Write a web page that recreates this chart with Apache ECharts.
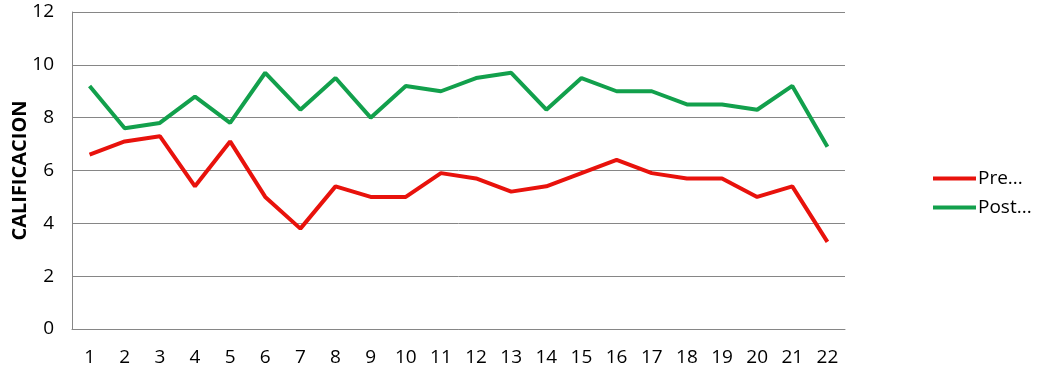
<!DOCTYPE html>
<html><head><meta charset="utf-8">
<script src="https://cdn.jsdelivr.net/npm/echarts@6/dist/echarts.min.js"></script>
<style>html,body{margin:0;padding:0;background:#fff}#c{width:1041px;height:379px}</style>
</head><body><div id="c"></div>
<script>
const categories = ['1','2','3','4','5','6','7','8','9','10','11','12','13','14','15','16','17','18','19','20','21','22'];
const preValues = [6.6,7.1,7.3,5.4,7.1,5.0,3.8,5.4,5.0,5.0,5.9,5.7,5.2,5.4,5.9,6.4,5.9,5.7,5.7,5.0,5.4,3.3];
const postValues = [9.2,7.6,7.8,8.8,7.8,9.7,8.3,9.5,8.0,9.2,9.0,9.5,9.7,8.3,9.5,9.0,9.0,8.5,8.5,8.3,9.2,6.9];
const seriesNames = ['Pre...','Post...'];
const yAxisName = 'CALIFICACION';

const font = 'Open Sans';
const chart = echarts.init(document.getElementById('c'));
chart.setOption({
  animation: false,
  textStyle: {fontFamily: font},
  grid: {left: 72, right: 196, top: 12, bottom: 50, outerBoundsMode: 'none', containLabel: false},
  legend: {
    orient: 'vertical', left: 933, top: 169, itemGap: 10, padding: 0,
    icon: 'rect', itemWidth: 43, itemHeight: 4,
    textStyle: {fontFamily: font, fontSize: 19, color: '#000', padding: [0,0,0,-3]},
    data: seriesNames
  },
  xAxis: {
    type: 'category', data: categories, boundaryGap: true,
    axisLine: {lineStyle: {color: '#868686', width: 1}},
    axisTick: {show: false},
    axisLabel: {color: '#000', fontSize: 19, margin: 19, interval: 0}
  },
  yAxis: {
    type: 'value', min: 0, max: 12, interval: 2,
    name: yAxisName, nameLocation: 'middle', nameGap: 42, nameMoveOverlap: false,
    nameTextStyle: {fontFamily: font, fontWeight: 'bold', fontSize: 20, color: '#000'},
    axisLine: {show: true, lineStyle: {color: '#868686', width: 1}},
    axisTick: {show: false},
    splitLine: {lineStyle: {color: '#868686', width: 1}},
    axisLabel: {color: '#000', fontSize: 19, margin: 18}
  },
  series: [
    {name: seriesNames[0], type: 'line', data: preValues, symbol: 'none',
     lineStyle: {color: '#e8120c', width: 4}, itemStyle: {color: '#e8120c'}},
    {name: seriesNames[1], type: 'line', data: postValues, symbol: 'none',
     lineStyle: {color: '#12a04c', width: 4}, itemStyle: {color: '#12a04c'}}
  ]
});
</script></body></html>
